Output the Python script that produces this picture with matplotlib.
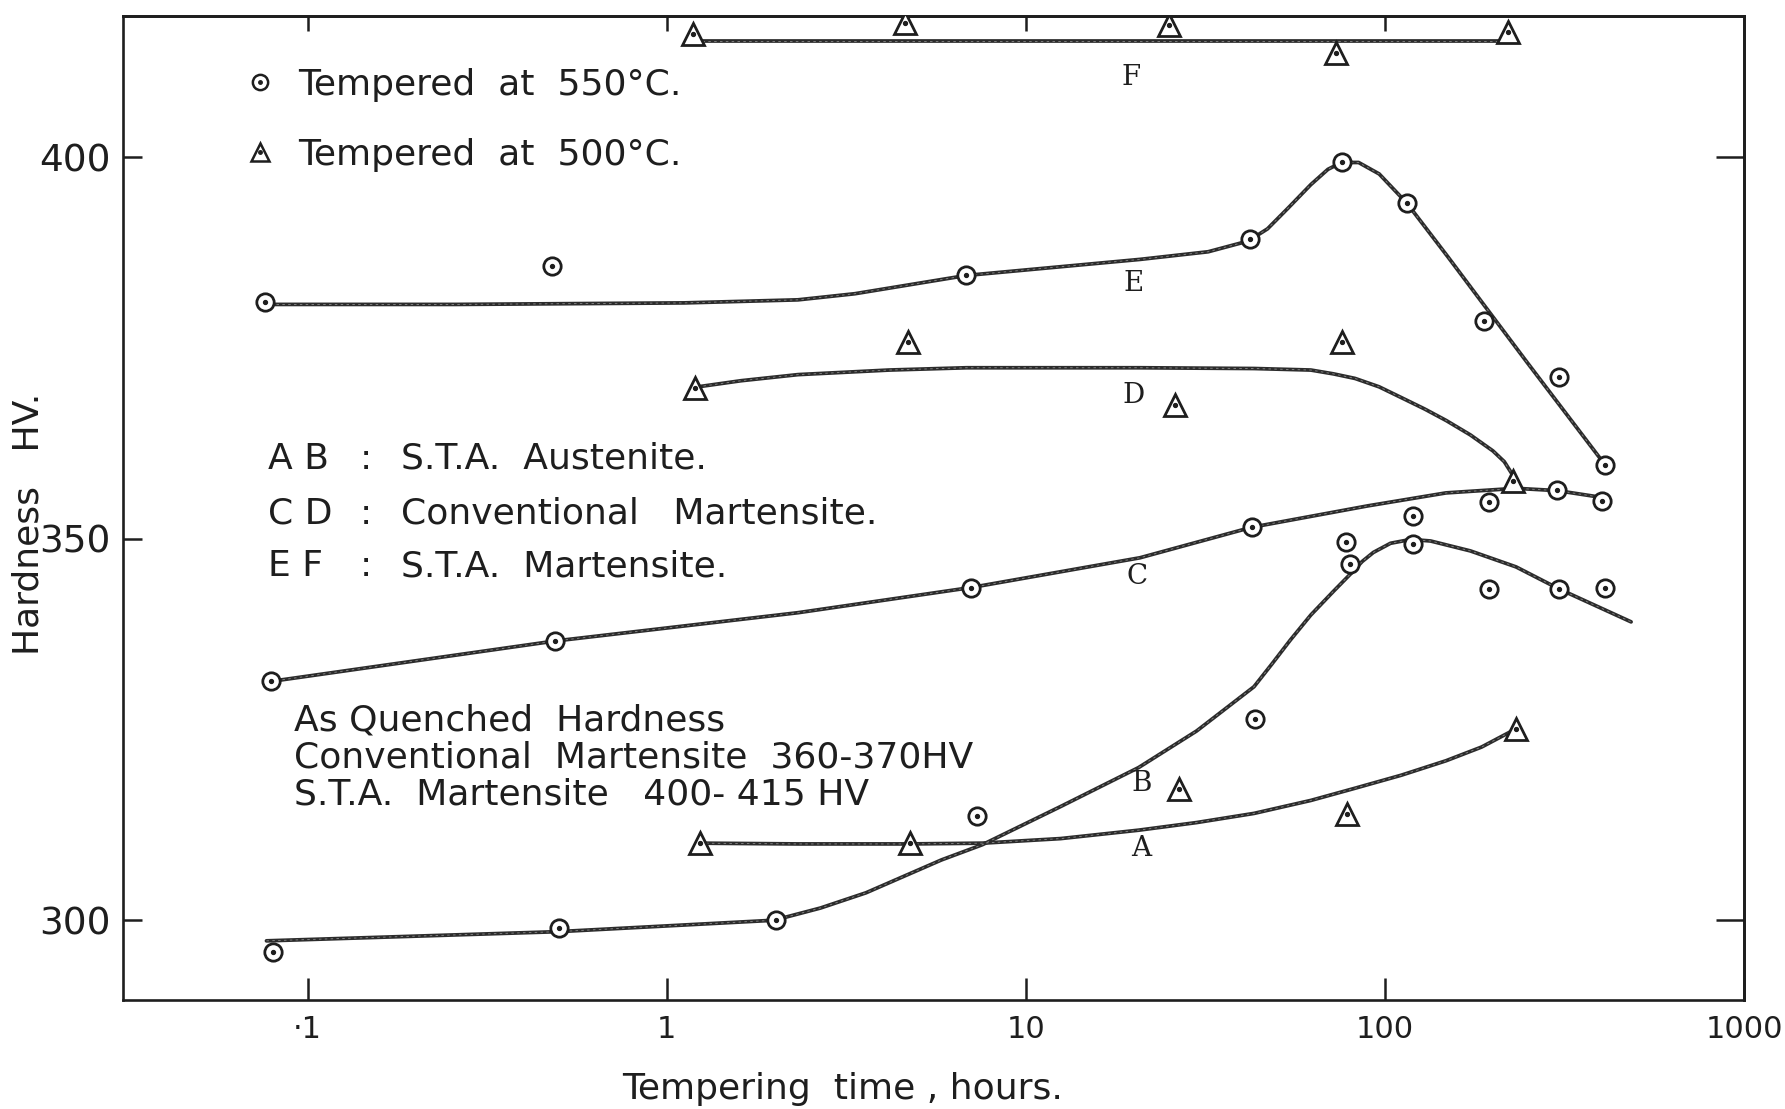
import matplotlib
matplotlib.use("Agg")
import matplotlib.pyplot as plt
from matplotlib.lines import Line2D
from matplotlib.legend_handler import HandlerTuple
from matplotlib.ticker import NullLocator

# ---- measured hardness (HV) vs tempering time (hours) ----
# A : S.T.A. austenite, tempered at 500 C
a_t = [1.24, 4.76, 26.7, 78.6, 232]
a_hv = [310.1, 310.1, 317.2, 313.9, 325.1]
# B : S.T.A. austenite, tempered at 550 C
b_t = [0.080, 0.50, 2.02, 7.3, 43.5, 78, 80, 120, 195, 306, 410]
b_hv = [295.8, 299.0, 300.0, 313.6, 326.4, 349.6, 346.7, 349.3, 343.4, 343.4, 343.6]
# C : conventional martensite, tempered at 550 C
c_t = [0.079, 0.49, 7.04, 42.6, 120, 195, 302, 403]
c_hv = [331.3, 336.6, 343.6, 351.5, 353.0, 354.8, 356.4, 354.9]
# D : conventional martensite, tempered at 500 C
d_t = [1.2, 4.7, 26.0, 76, 228]
d_hv = [369.7, 375.8, 367.5, 375.8, 357.5]
# E : S.T.A. martensite, tempered at 550 C
e_t = [0.076, 0.48, 6.8, 42, 76, 115, 189, 306, 410]
e_hv = [381.0, 385.8, 384.6, 389.3, 399.3, 394.0, 378.5, 371.2, 359.6]
# F : S.T.A. martensite, tempered at 500 C
f_t = [1.18, 4.6, 25, 73, 220]
f_hv = [416.1, 417.6, 417.3, 413.6, 416.4]

# ---- hand-faired trend curves (knots along each drawn curve) ----
a_fit_t = [1.24, 2.32, 4.75, 7.57, 12.5, 20.6, 29.9, 43.2, 62.2, 82.6, 111, 148, 186, 228]
a_fit_hv = [310.1, 310.0, 310.0, 310.1, 310.7, 311.8, 312.8, 314.0, 315.7, 317.3,
            319.0, 320.9, 322.7, 324.9]
b_fit_t = [0.0768, 0.496, 1.99, 2.68, 3.59, 5.82, 7.57, 12.5, 20.6, 29.9, 43.2, 48.5,
           54.5, 62.2, 71.9, 80.3, 86.4, 92.9, 103.7, 118, 134, 173, 232, 306, 485]
b_fit_hv = [297.3, 298.5, 300.0, 301.6, 303.6, 307.9, 309.9, 314.9, 320.0, 324.8,
            330.6, 333.6, 336.7, 340.0, 343.1, 345.4, 347.0, 348.2, 349.4, 349.9,
            349.7, 348.4, 346.3, 343.4, 339.1]
c_fit_t = [0.079, 0.49, 2.32, 7.04, 20.8, 42.6, 89.6, 148, 232, 302, 403]
c_fit_hv = [331.3, 336.6, 340.3, 343.6, 347.5, 351.5, 354.3, 356.0, 356.6, 356.3, 355.4]
d_fit_t = [1.22, 1.61, 2.32, 4.16, 6.84, 20.8, 43.2, 62.2, 71.9, 82.6, 96.4, 111, 129,
           148, 173, 200, 215, 228]
d_fit_hv = [369.9, 370.7, 371.5, 372.1, 372.4, 372.4, 372.3, 372.1, 371.6, 371.0,
            369.9, 368.5, 367.0, 365.5, 363.6, 361.5, 360.1, 358.2]
e_fit_t = [0.076, 0.259, 1.12, 2.32, 3.34, 6.84, 20.8, 32.2, 41.6, 47.1, 53.7, 62.2,
           69.4, 75.7, 84.5, 96.4, 115, 150, 189, 249, 401]
e_fit_hv = [380.7, 380.7, 380.9, 381.3, 382.1, 384.5, 386.6, 387.6, 389.0, 390.6,
            393.3, 396.4, 398.4, 399.3, 399.3, 397.8, 394.0, 386.9, 380.6, 373.1, 360.3]
f_fit_t = [1.25, 220]
f_fit_hv = [415.2, 415.2]

# curve letters and their positions
curve_names = ["A", "B", "C", "D", "E", "F"]
name_t = [21.0, 21.0, 20.4, 20.0, 20.0, 19.7]
name_hv = [309.4, 317.9, 345.1, 368.7, 383.4, 410.4]

x_ticks = [0.1, 1, 10, 100, 1000]
x_ticklabels = ["\u00b71", "1", "10", "100", "1000"]
y_ticks = [300, 350, 400]

INK = "#1e1e1e"
LINE = "#2c2c2c"
FS = 26

plt.rcParams["font.family"] = ["DejaVu Sans"]

fig = plt.figure(figsize=(17.85, 11.09), dpi=100)
ax = fig.add_axes([0.0689, 0.0983, 0.977 - 0.0689, 0.9856 - 0.0983])
ax.set_xscale("log")
ax.set_xlim(0.0306, 1000)
ax.set_ylim(289.55, 418.5)

for fx, fy in [(a_fit_t, a_fit_hv), (b_fit_t, b_fit_hv), (c_fit_t, c_fit_hv),
               (d_fit_t, d_fit_hv), (e_fit_t, e_fit_hv), (f_fit_t, f_fit_hv)]:
    ax.plot(fx, fy, color=LINE, lw=2.7, solid_capstyle="round",
            solid_joinstyle="round", zorder=2)
    ax.plot(fx, fy, color="#8a8a8a", lw=0.6, ls=(0, (3, 4)), zorder=2.1)

circle_kw = dict(ls="none", marker="o", ms=12.5, mfc="white", mec=INK, mew=2.0, zorder=3)
tri_kw = dict(ls="none", marker="^", ms=15.5, mfc="white", mec=INK, mew=2.0, zorder=3)
dot_kw = dict(ls="none", marker="o", ms=2.8, color=INK, zorder=4)

for tx, hy in [(b_t, b_hv), (c_t, c_hv), (e_t, e_hv)]:
    ax.plot(tx, hy, **circle_kw)
    ax.plot(tx, hy, **dot_kw)
for tx, hy in [(a_t, a_hv), (d_t, d_hv), (f_t, f_hv)]:
    ax.plot(tx, hy, **tri_kw)
    ax.plot(tx, hy, **dot_kw)

for nm, tx, hy in zip(curve_names, name_t, name_hv):
    ax.text(tx, hy, nm, family="DejaVu Serif", fontsize=20, color=INK,
            ha="center", va="center")

# axes frame and ticks
for sp in ax.spines.values():
    sp.set_linewidth(1.9)
    sp.set_color(INK)
ax.set_xticks(x_ticks)
ax.set_xticklabels(x_ticklabels)
ax.xaxis.set_minor_locator(NullLocator())
ax.set_yticks(y_ticks)
ax.tick_params(axis="x", direction="in", length=16, width=1.8, pad=11,
               labelsize=22, colors=INK)
ax.tick_params(axis="y", direction="in", length=14, width=1.8, pad=9,
               labelsize=27, colors=INK)

top = ax.secondary_xaxis("top")
top.set_xticks(x_ticks[:-1])
top.set_xticklabels([])
top.xaxis.set_minor_locator(NullLocator())
top.tick_params(direction="in", length=11, width=1.8, colors=INK)
top.spines["top"].set_linewidth(1.9)

right = ax.secondary_yaxis("right")
right.set_yticks([300, 400])
right.set_yticklabels([])
right.tick_params(direction="in", length=20, width=1.8, colors=INK)
right.spines["right"].set_linewidth(1.9)

# temperature key
h550 = (Line2D([], [], ls="none", marker="o", ms=11, mfc="white", mec=INK, mew=1.8),
        Line2D([], [], ls="none", marker="o", ms=2.5, color=INK))
h500 = (Line2D([], [], ls="none", marker="^", ms=13, mfc="white", mec=INK, mew=1.8),
        Line2D([], [], ls="none", marker="o", ms=2.5, color=INK))
leg = ax.legend([h550, h500], ["Tempered  at  550\u00b0C.", "Tempered  at  500\u00b0C."],
                handler_map={tuple: HandlerTuple(ndivide=1, pad=0)},
                loc="upper left", bbox_to_anchor=(0.0733, 0.9473), frameon=False,
                fontsize=FS, borderaxespad=0, borderpad=0, handlelength=1.0,
                handletextpad=0.57, labelspacing=0.99, labelcolor=INK)

# structure key
rows_y = [0.5498, 0.4942, 0.441]
pairs = ["A B", "C D", "E F"]
desc = ["S.T.A.  Austenite.", "Conventional   Martensite.", "S.T.A.  Martensite."]
for yy, p, d in zip(rows_y, pairs, desc):
    ax.text(0.0893, yy, p, transform=ax.transAxes, fontsize=FS, color=INK, va="center")
    ax.text(0.1463, yy, ":", transform=ax.transAxes, fontsize=FS, color=INK, va="center")
    ax.text(0.1716, yy, d, transform=ax.transAxes, fontsize=FS, color=INK, va="center")

ax.text(0.1055, 0.2465,
        "As Quenched  Hardness\n"
        "Conventional  Martensite  360-370HV\n"
        "S.T.A.  Martensite   400- 415 HV",
        transform=ax.transAxes, fontsize=FS, color=INK, va="center", linespacing=1.1)

fig.text(0.4719, 0.0176, "Tempering  time , hours.", fontsize=FS, color=INK,
         ha="center", va="center")
fig.text(0.0159, 0.528, "Hardness   HV.", fontsize=FS, color=INK, rotation=90,
         ha="center", va="center")

fig.savefig("out.png", dpi=100, facecolor="white")
